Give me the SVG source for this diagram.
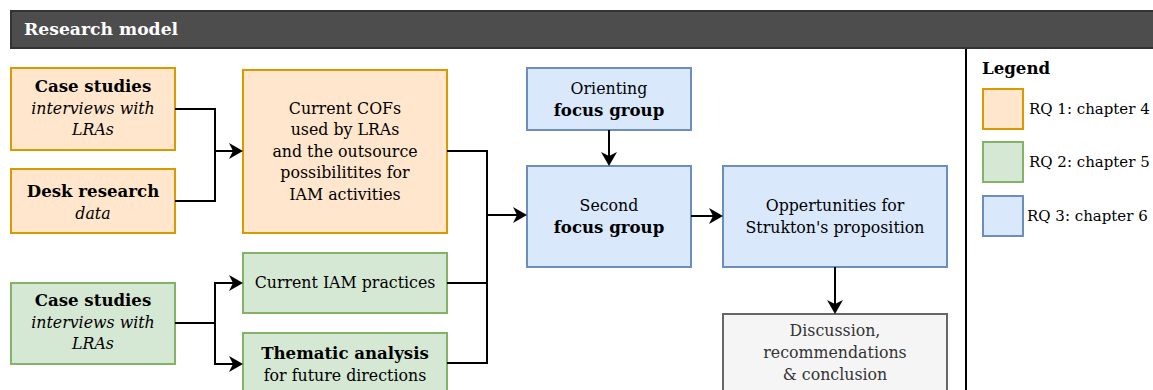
<svg xmlns="http://www.w3.org/2000/svg" width="1153" height="390" viewBox="0 0 1153 390">
  <style>
    text { font-family: "DejaVu Serif", "Liberation Serif", serif; font-size: 15.8px; fill: #000; text-anchor: middle; }
    .b { font-weight: bold; font-size: 16.6px; }
    .i { font-style: italic; }
    .l { text-anchor: start; }
    .key { font-size: 15px; }
    .orange { fill: #ffe6cc; stroke: #d79b00; stroke-width: 2; }
    .green { fill: #d5e8d4; stroke: #82b366; stroke-width: 2; }
    .blue { fill: #dae8fc; stroke: #6c8ebf; stroke-width: 2; }
    .grey { fill: #f5f5f5; stroke: #666666; stroke-width: 2; }
    .edge { fill: none; stroke: #000; stroke-width: 2; }
    .arrow { fill: none; stroke: #000; stroke-width: 2; marker-end: url(#head); }
  </style>
  <defs>
    <marker id="head" viewBox="0 0 14 16" refX="4" refY="8" markerWidth="14" markerHeight="16" markerUnits="userSpaceOnUse" orient="auto">
      <path d="M0,0 L14,8 L0,16 L4,8 Z" fill="#000"/>
    </marker>
  </defs>

  <rect width="1153" height="390" fill="#ffffff"/>

  <!-- title bar -->
  <g id="title">
    <rect x="11" y="11" width="1150" height="37" fill="#4d4d4d" stroke="#333333" stroke-width="2"/>
    <text class="b l" x="24" y="35" style="fill:#ffffff;font-size:17.2px">Research model</text>
  </g>

  <!-- divider between model and legend -->
  <line x1="966" y1="49" x2="966" y2="390" stroke="#000" stroke-width="2"/>

  <!-- RQ 1 -->
  <g id="case-studies-1">
    <rect class="orange" x="11" y="68" width="164" height="82"/>
    <text class="b" x="93" y="92">Case studies</text>
    <text class="i" x="93" y="114">interviews with</text>
    <text class="i" x="93" y="135">LRAs</text>
  </g>
  <g id="desk-research">
    <rect class="orange" x="11" y="169" width="164" height="64"/>
    <text class="b" x="93" y="197">Desk research</text>
    <text class="i" x="93" y="219">data</text>
  </g>
  <g id="current-cofs">
    <rect class="orange" x="243" y="70" width="204" height="163"/>
    <text x="345" y="114">Current COFs</text>
    <text x="345" y="135">used by LRAs</text>
    <text x="345" y="157">and the outsource</text>
    <text x="345" y="178">possibilitites for</text>
    <text x="345" y="200">IAM activities</text>
  </g>

  <!-- RQ 2 -->
  <g id="case-studies-2">
    <rect class="green" x="11" y="283" width="164" height="81"/>
    <text class="b" x="93" y="306">Case studies</text>
    <text class="i" x="93" y="328">interviews with</text>
    <text class="i" x="93" y="349">LRAs</text>
  </g>
  <g id="current-iam">
    <rect class="green" x="243" y="253" width="204" height="60"/>
    <text x="345" y="288">Current IAM practices</text>
  </g>
  <g id="thematic-analysis">
    <rect class="green" x="243" y="333" width="204" height="70"/>
    <text class="b" x="345" y="359">Thematic analysis</text>
    <text x="345" y="381">for future directions</text>
  </g>

  <!-- RQ 3 -->
  <g id="orienting-focus-group">
    <rect class="blue" x="527" y="68" width="164" height="62"/>
    <text x="609" y="94">Orienting</text>
    <text class="b" x="609" y="116">focus group</text>
  </g>
  <g id="second-focus-group">
    <rect class="blue" x="527" y="166" width="164" height="101"/>
    <text x="609" y="211">Second</text>
    <text class="b" x="609" y="233">focus group</text>
  </g>
  <g id="opportunities">
    <rect class="blue" x="723" y="166" width="224" height="101"/>
    <text x="835" y="211">Oppertunities for</text>
    <text x="835" y="233">Strukton's proposition</text>
  </g>
  <g id="discussion">
    <rect class="grey" x="723" y="314" width="224" height="90"/>
    <text x="835" y="336" style="fill:#333333">Discussion,</text>
    <text x="835" y="358" style="fill:#333333">recommendations</text>
    <text x="835" y="380" style="fill:#333333">&amp; conclusion</text>
  </g>

  <!-- legend -->
  <g id="legend">
    <text class="b l" x="982" y="74">Legend</text>
    <rect class="orange" x="983" y="89" width="40" height="40"/>
    <text class="l key" x="1029" y="114">RQ 1: chapter 4</text>
    <rect class="green" x="983" y="142" width="40" height="40"/>
    <text class="l key" x="1029" y="167">RQ 2: chapter 5</text>
    <rect class="blue" x="983" y="196" width="40" height="40"/>
    <text class="l key" x="1027" y="221">RQ 3: chapter 6</text>
  </g>

  <!-- connectors -->
  <g id="connectors">
    <path class="edge" d="M175,109 H215 V201 H175"/>
    <path class="arrow" d="M215,151 H233"/>
    <path class="edge" d="M175,323 H215"/>
    <path class="arrow" d="M215,323 V283 H233"/>
    <path class="arrow" d="M215,323 V364 H233"/>
    <path class="edge" d="M447,151 H487 V363 H447"/>
    <path class="edge" d="M447,283 H487"/>
    <path class="arrow" d="M487,215 H517"/>
    <path class="arrow" d="M609,130 V156"/>
    <path class="arrow" d="M691,216 H713"/>
    <path class="arrow" d="M835,267 V304"/>
  </g>
</svg>
